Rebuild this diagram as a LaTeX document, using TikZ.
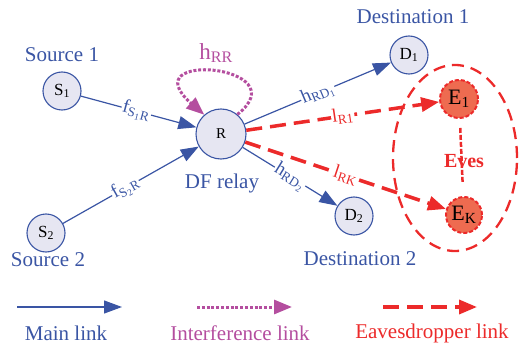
\documentclass[tikz,border=0pt]{standalone}
\usepackage{fontspec}
\setmainfont{Liberation Serif}
\usetikzlibrary{arrows.meta,shapes.geometric}

\definecolor{linkblue}{HTML}{3A55A4}
\definecolor{nodefill}{HTML}{E6E6F2}
\definecolor{intmag}{HTML}{B44E9F}
\definecolor{evered}{HTML}{EC2A2A}
\definecolor{evefill}{HTML}{EE6B50}

\newcommand\fsz[1]{\fontsize{#1}{#1}\selectfont}

\tikzset{
  terminal/.style={circle, draw=linkblue, line width=1.1pt, fill=nodefill,
    minimum size=38pt, inner sep=0pt, font=\fsz{17}},
  relay/.style={terminal, minimum size=50pt, font=\fsz{15}},
  eve/.style={circle, draw=evered, line width=2pt, dash pattern=on 4pt off 2pt,
    fill=evefill, minimum size=38pt, inner sep=0pt, font=\fsz{22}},
  bluetext/.style={text=linkblue, font=\fsz{21}},
  mainlink/.style={draw=linkblue, line width=1.2pt,
    -{Triangle[length=18pt,width=13pt]}},
  interf/.style={draw=intmag, line width=3pt, dash pattern=on 3pt off 1.8pt,
    -{Triangle[length=18pt,width=14pt]}},
  evelink/.style={draw=evered, line width=3.5pt, dash pattern=on 16pt off 8pt,
    -{Triangle[length=18pt,width=14pt]}},
  elabel/.style={fill=white, inner sep=1pt, sloped, font=\fsz{19}},
  bluelabel/.style={elabel, text=linkblue},
  redlabel/.style={elabel, text=evered},
}

\begin{document}
\begin{tikzpicture}[x=1pt,y=-1pt]
\useasboundingbox (0,0) rectangle (519,350);

% eavesdropper group outline
\node (evegroup) [ellipse, draw=evered, line width=2.3pt, dash pattern=on 12pt off 7pt,
  minimum width=124pt, minimum height=186pt, inner sep=0pt] at (455,158) {};

% nodes
\node (S1) [terminal] at (62,91) {S\textsubscript{1}};
\node (S2) [terminal] at (46,233) {S\textsubscript{2}};
\node (R)  [relay]    at (221,134) {R};
\node (D1) [terminal] at (409,55) {D\textsubscript{1}};
\node (D2) [terminal] at (354,216) {D\textsubscript{2}};
\node (E1) [eve] at (459,99) {E\textsubscript{1}};
\node (EK) [eve, minimum size=36pt] at (464,215) {E\textsubscript{K}};

% captions
\node (src1) [bluetext] at (62,55) {Source 1};
\node (src2) [bluetext] at (48,260) {Source 2};
\node (dst1) [bluetext] at (413,17) {Destination 1};
\node (dst2) [bluetext] at (360,259) {Destination 2};
\node (relaycap) [bluetext] at (222,183) {DF relay};
\node (hrr) [text=intmag, font=\fsz{23}] at (216,53) {h\textsubscript{RR}};

% main links
\draw[mainlink] (S1) -- node[bluelabel, pos=0.48] {f\textsubscript{S\textsubscript{1}R}} (R);
\draw[mainlink] (S2) -- node[bluelabel, pos=0.46] {f\textsubscript{S\textsubscript{2}R}} (R);
\draw[mainlink] (R) -- node[bluelabel, pos=0.5] {h\textsubscript{RD\textsubscript{1}}} (D1);
\draw[mainlink] (R) -- node[bluelabel, pos=0.5] {h\textsubscript{RD\textsubscript{2}}} (D2);

% self interference loop
\draw[interf] (R.50) .. controls (300,65) and (130,50) .. (R.131);

% eavesdropper links
\draw[evelink] (R) -- node[redlabel, pos=0.5] {l\textsubscript{R1}} (E1);
\draw[evelink] (R) -- node[redlabel, pos=0.5] {l\textsubscript{RK}} (EK);

% eavesdropper chain
\draw[draw=evered, line width=2.5pt, dash pattern=on 5pt off 2pt,
  shorten <=9pt, shorten >=14pt] (E1) -- (EK);
\node (evelabel) [text=evered, font=\fsz{20}\bfseries] at (464,161) {Eves};

% legend
\coordinate (m1) at (17,307);  \coordinate (m2) at (122,307);
\coordinate (i1) at (197,307); \coordinate (i2) at (292,307);
\coordinate (e1) at (383,307); \coordinate (e2) at (477,307);
\draw[mainlink] (m1) -- (m2);
\draw[interf] (i1) -- (i2);
\draw[evelink] (e1) -- (e2);
\node (lgmain) [bluetext] at (66,333) {Main link};
\node (lgint) [text=intmag, font=\fsz{21}] at (240,333) {Interference link};
\node (lgeve) [text=evered, font=\fsz{21}] at (432,333) {Eavesdropper link};
\end{tikzpicture}
\end{document}
